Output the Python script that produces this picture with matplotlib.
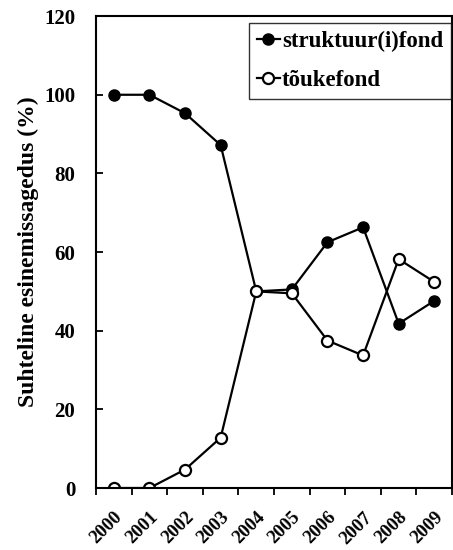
import matplotlib.pyplot as plt
import numpy as np

years = ['2000', '2001', '2002', '2003', '2004', '2005', '2006', '2007', '2008', '2009']
struktuur = [100, 100, 95.3, 87.2, 50.0, 50.5, 62.5, 66.3, 41.8, 47.6]
toukefond = [0, 0, 4.7, 12.8, 50.0, 49.5, 37.5, 33.7, 58.2, 52.4]

plt.rcParams['font.family'] = ['Liberation Serif', 'DejaVu Serif']
plt.rcParams['font.weight'] = 'bold'

fig = plt.figure(figsize=(4.53, 5.5), dpi=100)
ax = fig.add_axes([0.212, 0.1127, 0.786, 0.858])

x = np.arange(len(years))
ax.plot(x, struktuur, color='black', lw=1.6, marker='o', ms=8,
        mfc='black', mec='black', label='struktuur(i)fond')
ax.plot(x, toukefond, color='black', lw=1.6, marker='o', ms=8,
        mfc='white', mec='black', mew=1.6, label='tõukefond')

ax.set_xlim(-0.5, len(years) - 0.5)
ax.set_ylim(0, 120)
ax.set_yticks(range(0, 121, 20))
ax.set_xticks(x)
ax.set_xticklabels(years, rotation=45, ha='right', rotation_mode='anchor',
                   fontsize=13.5, fontweight='bold')
ax.set_xticks(np.arange(-0.5, len(years)), minor=True)
ax.tick_params(axis='x', which='major', length=0, pad=15)
ax.tick_params(axis='x', which='minor', direction='out', length=5, width=1.3)
ax.tick_params(axis='y', direction='in', length=5, width=1.3, labelsize=15, pad=15)
for lab in ax.get_yticklabels():
    lab.set_fontweight('bold')

for s in ax.spines.values():
    s.set_linewidth(1.5)

ax.set_ylabel('Suhteline esinemissagedus (%)', fontsize=17, fontweight='bold', labelpad=4)

leg = ax.legend(loc='upper right', bbox_to_anchor=(0.997, 0.985),
                frameon=True, fancybox=False, fontsize=16.5,
                handlelength=1.0, handletextpad=0.1, borderpad=0.35,
                labelspacing=0.75, borderaxespad=0.0)
leg.get_frame().set_edgecolor('black')
leg.get_frame().set_linewidth(1.0)

fig.savefig('out.png', dpi=100)
